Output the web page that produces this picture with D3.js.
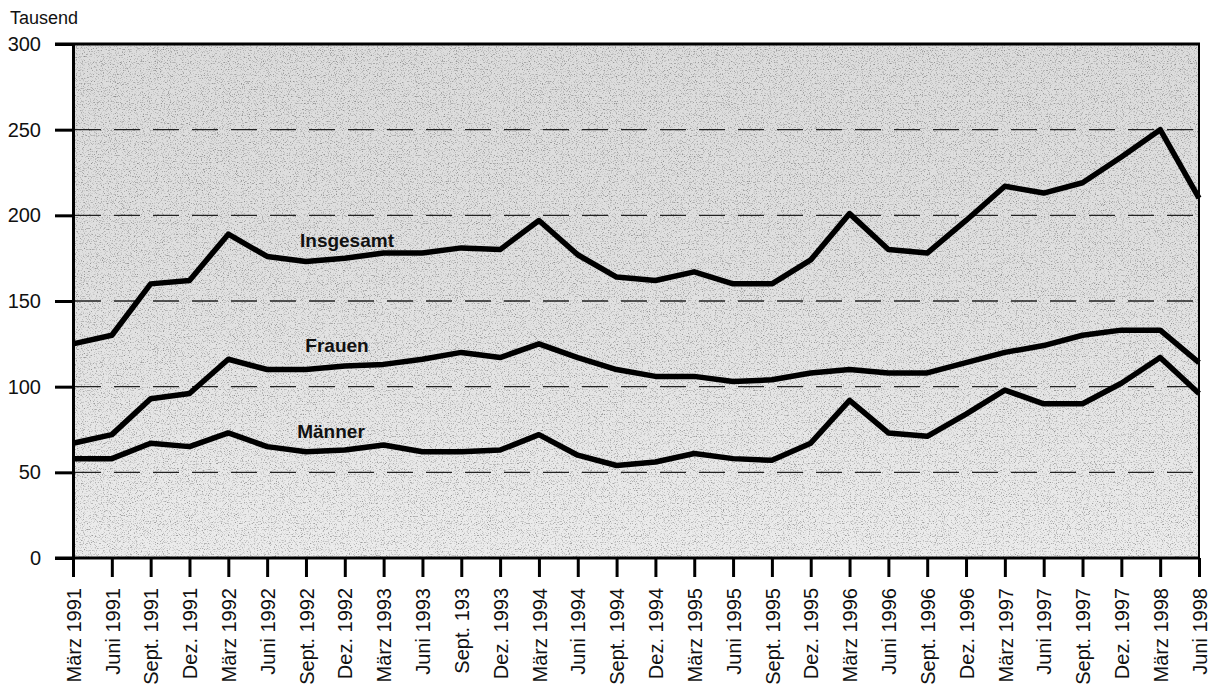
<!DOCTYPE html>
<html>
<head>
<meta charset="utf-8">
<script src="https://cdn.jsdelivr.net/npm/d3@7"></script>
<style>
  body { margin: 0; background: #fff; }
  text { font-family: "Liberation Sans", Arial, sans-serif; }
</style>
</head>
<body>
<script>
// quarters, March 1991 - June 1998
const periods = [
  "März 1991", "Juni 1991", "Sept. 1991", "Dez. 1991",
  "März 1992", "Juni 1992", "Sept. 1992", "Dez. 1992",
  "März 1993", "Juni 1993", "Sept. 193", "Dez. 1993",
  "März 1994", "Juni 1994", "Sept. 1994", "Dez. 1994",
  "März 1995", "Juni 1995", "Sept. 1995", "Dez. 1995",
  "März 1996", "Juni 1996", "Sept. 1996", "Dez. 1996",
  "März 1997", "Juni 1997", "Sept. 1997", "Dez. 1997",
  "März 1998", "Juni 1998"
];

const insgesamt = [125, 130, 160, 162, 189, 176, 173, 175, 178, 178, 181, 180,
  197, 177, 164, 162, 167, 160, 160, 174, 201, 180, 178, 197, 217, 213, 219, 234, 250, 210];
const frauen = [67, 72, 93, 96, 116, 110, 110, 112, 113, 116, 120, 117,
  125, 117, 110, 106, 106, 103, 104, 108, 110, 108, 108, 114, 120, 124, 130, 133, 133, 114];
const maenner = [58, 58, 67, 65, 73, 65, 62, 63, 66, 62, 62, 63,
  72, 60, 54, 56, 61, 58, 57, 67, 92, 73, 71, 84, 98, 90, 90, 102, 117, 96];

const yTicks = [0, 50, 100, 150, 200, 250, 300];

const series = [
  { name: "Insgesamt", values: insgesamt, labelAt: [347, 240] },
  { name: "Frauen", values: frauen, labelAt: [337, 345] },
  { name: "Männer", values: maenner, labelAt: [331, 431] }
];

const width = 1215, height = 691;
const margin = { top: 44, right: 16, bottom: 133, left: 73 };

const svg = d3.select("body").append("svg")
  .attr("width", width)
  .attr("height", height);

const x = d3.scalePoint()
  .domain(periods)
  .range([margin.left, width - margin.right]);

const y = d3.scaleLinear()
  .domain([0, 300])
  .range([height - margin.bottom, margin.top]);

// speckled print-like background
const defs = svg.append("defs");
const grad = defs.append("linearGradient").attr("id", "bg")
  .attr("x1", 0).attr("y1", 0).attr("x2", 0).attr("y2", 1);
grad.append("stop").attr("offset", "0%").attr("stop-color", "#dcdcdc");
grad.append("stop").attr("offset", "45%").attr("stop-color", "#e0e0e0");
grad.append("stop").attr("offset", "100%").attr("stop-color", "#ececec");

const f = defs.append("filter").attr("id", "grain")
  .attr("x", 0).attr("y", 0).attr("width", "100%").attr("height", "100%");
f.append("feTurbulence")
  .attr("type", "fractalNoise")
  .attr("baseFrequency", 0.85)
  .attr("numOctaves", 2)
  .attr("seed", 7)
  .attr("result", "noise");
f.append("feColorMatrix")
  .attr("in", "noise")
  .attr("type", "matrix")
  .attr("values", "0 0 0 0 0  0 0 0 0 0  0 0 0 0 0  -3.5 0 0 0 1.65")
  .attr("result", "dots");
f.append("feComposite").attr("in", "dots").attr("in2", "SourceGraphic").attr("operator", "in");

const x0 = x(periods[0]), x1 = x(periods[periods.length - 1]);

svg.append("rect")
  .attr("x", x0).attr("y", y(300))
  .attr("width", x1 - x0).attr("height", y(0) - y(300))
  .attr("fill", "url(#bg)");

svg.append("rect")
  .attr("x", x0).attr("y", y(300))
  .attr("width", x1 - x0).attr("height", y(0) - y(300))
  .attr("fill", "#222")
  .attr("filter", "url(#grain)")
  .attr("opacity", 0.35);

// dashed gridlines
svg.append("g")
  .selectAll("line")
  .data(yTicks.filter(d => d > 0 && d < 300))
  .join("line")
  .attr("x1", x0 + 2).attr("x2", x1 - 2)
  .attr("y1", d => y(d)).attr("y2", d => y(d))
  .attr("stroke", "#222")
  .attr("stroke-width", 1.4)
  .attr("stroke-dasharray", "26 13");

// y axis
const yAxis = svg.append("g")
  .attr("transform", `translate(${x0},0)`)
  .call(d3.axisLeft(y).tickValues(yTicks).tickSize(18).tickPadding(14));
yAxis.select(".domain").attr("stroke-width", 3);
yAxis.selectAll(".tick line").attr("stroke-width", 3);
yAxis.selectAll(".tick text")
  .attr("font-size", 20)
  .attr("fill", "#111")
  .style("font-family", "'Liberation Sans', Arial, sans-serif");

// x axis
const xAxis = svg.append("g")
  .attr("transform", `translate(0,${y(0)})`)
  .call(d3.axisBottom(x).tickSize(19).tickSizeOuter(0));
xAxis.select(".domain").remove();
xAxis.selectAll(".tick line").attr("stroke-width", 3);
xAxis.selectAll(".tick text")
  .attr("font-size", 20)
  .attr("fill", "#111")
  .attr("text-anchor", "end")
  .attr("transform", "rotate(-90)")
  .attr("x", -30)
  .attr("y", 0)
  .attr("dy", "0.36em")
  .style("font-family", "'Liberation Sans', Arial, sans-serif");

// frame lines
svg.append("line")
  .attr("x1", x0 - 18).attr("x2", x1 + 1)
  .attr("y1", y(0)).attr("y2", y(0))
  .attr("stroke", "#000").attr("stroke-width", 3);
svg.append("line")
  .attr("x1", x0 - 18).attr("x2", x1 + 1)
  .attr("y1", y(300)).attr("y2", y(300))
  .attr("stroke", "#000").attr("stroke-width", 3);
svg.append("line")
  .attr("x1", x1).attr("x2", x1)
  .attr("y1", y(300)).attr("y2", y(0))
  .attr("stroke", "#000").attr("stroke-width", 2);

// lines
const line = d3.line()
  .x((d, i) => x(periods[i]))
  .y(d => y(d));

svg.append("g")
  .selectAll("path")
  .data(series)
  .join("path")
  .attr("d", d => line(d.values))
  .attr("fill", "none")
  .attr("stroke", "#000")
  .attr("stroke-width", 5.5)
  .attr("stroke-linejoin", "round");

// series labels
svg.append("g")
  .selectAll("text")
  .data(series)
  .join("text")
  .attr("x", d => d.labelAt[0])
  .attr("y", d => d.labelAt[1])
  .attr("text-anchor", "middle")
  .attr("dy", "0.35em")
  .attr("font-size", 19)
  .attr("font-weight", "bold")
  .attr("fill", "#111")
  .text(d => d.name);

svg.append("text")
  .attr("x", 10).attr("y", 24)
  .attr("font-size", 18)
  .attr("fill", "#111")
  .text("Tausend");
</script>
</body>
</html>
